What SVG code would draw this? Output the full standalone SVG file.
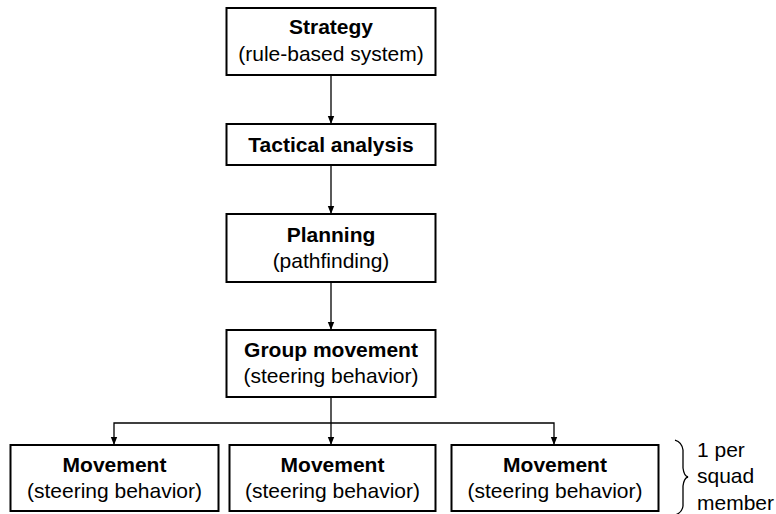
<svg xmlns="http://www.w3.org/2000/svg" width="776" height="514" viewBox="0 0 776 514">
<style>
.box{fill:#fff;stroke:#000;stroke-width:2}
.b{font-family:"Liberation Sans",Arial,sans-serif;font-weight:bold;font-size:21px;text-anchor:middle;fill:#000}
.r{font-family:"Liberation Sans",Arial,sans-serif;font-size:21px;text-anchor:middle;fill:#000}
.n{font-family:"Liberation Sans",Arial,sans-serif;font-size:21px;fill:#000}
.c{fill:none;stroke:#000;stroke-width:1.3}
</style>
<defs>
<marker id="ah" viewBox="0 0 8 10" refX="8" refY="5" markerWidth="8" markerHeight="10" markerUnits="userSpaceOnUse" orient="auto">
<path d="M0,1.8 L8,5 L0,8.2 Z" fill="#000"/>
</marker>
</defs>
<g id="connectors">
<line class="c" x1="331" y1="75" x2="331" y2="124" marker-end="url(#ah)"/>
<line class="c" x1="331" y1="165" x2="331" y2="214" marker-end="url(#ah)"/>
<line class="c" x1="331" y1="282" x2="331" y2="330" marker-end="url(#ah)"/>
<line class="c" x1="331" y1="397" x2="331" y2="445" marker-end="url(#ah)"/>
<polyline class="c" points="331,423 114,423 114,445" marker-end="url(#ah)"/>
<polyline class="c" points="331,423 554,423 554,445" marker-end="url(#ah)"/>
</g>
<g id="strategy">
<rect class="box" x="226.5" y="8" width="209" height="67"/>
<text class="b" x="331" y="34">Strategy</text>
<text class="r" x="331" y="61">(rule-based system)</text>
</g>
<g id="tactical">
<rect class="box" x="226.5" y="124" width="209" height="41"/>
<text class="b" x="331" y="152">Tactical analysis</text>
</g>
<g id="planning">
<rect class="box" x="226.5" y="214" width="209" height="68"/>
<text class="b" x="331" y="242">Planning</text>
<text class="r" x="331" y="268">(pathfinding)</text>
</g>
<g id="group">
<rect class="box" x="226.5" y="330" width="209" height="67"/>
<text class="b" x="331" y="357">Group movement</text>
<text class="r" x="331" y="383">(steering behavior)</text>
</g>
<g id="movement1">
<rect class="box" x="10.5" y="445" width="208" height="66"/>
<text class="b" x="114.5" y="472">Movement</text>
<text class="r" x="114.5" y="498">(steering behavior)</text>
</g>
<g id="movement2">
<rect class="box" x="229.5" y="445" width="206" height="66"/>
<text class="b" x="332.5" y="472">Movement</text>
<text class="r" x="332.5" y="498">(steering behavior)</text>
</g>
<g id="movement3">
<rect class="box" x="451.5" y="445" width="207" height="66"/>
<text class="b" x="555" y="472">Movement</text>
<text class="r" x="555" y="498">(steering behavior)</text>
</g>
<g id="brace">
<path d="M675,440 Q682,442 683,450 L683,468 Q684,476 688,477 Q684,478 683,486 L683,506 Q682,513 675,515" fill="none" stroke="#000" stroke-width="1.3"/>
<text class="n" x="697" y="457">1 per</text>
<text class="n" x="697" y="483">squad</text>
<text class="n" x="697" y="510">member</text>
</g>
</svg>
